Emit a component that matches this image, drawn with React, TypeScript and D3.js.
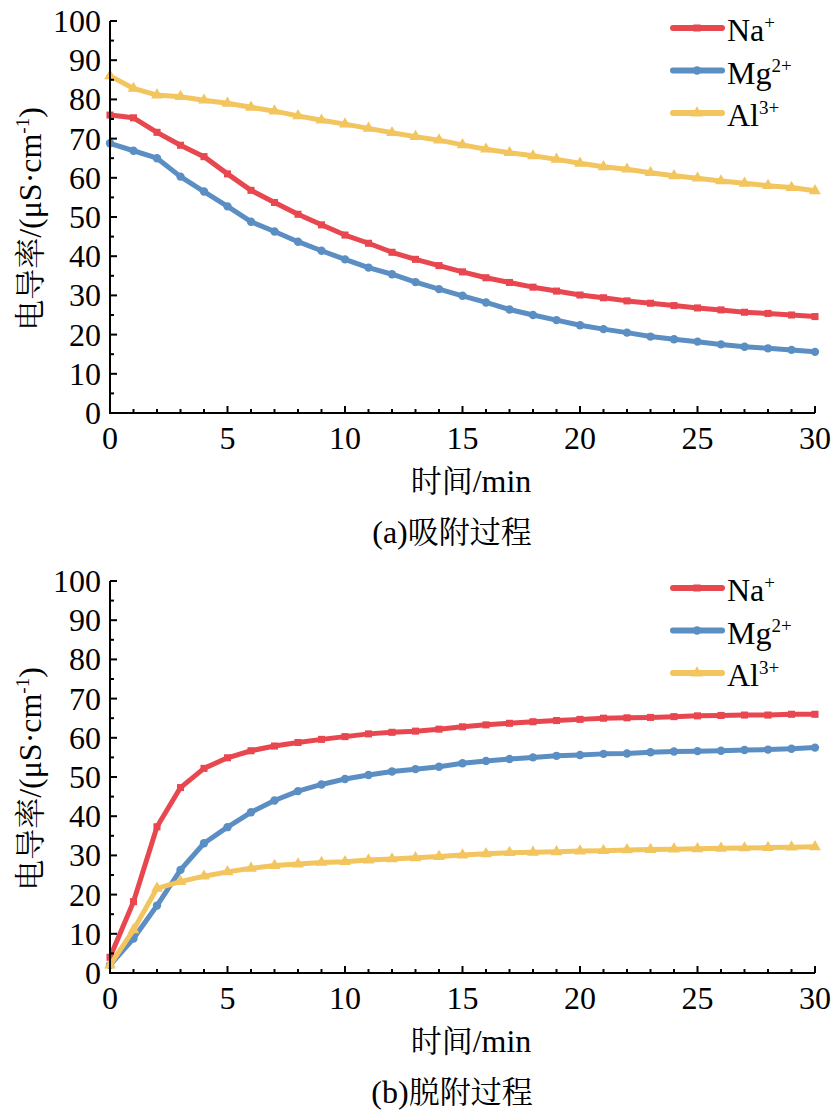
import React from "react";
import * as d3 from "d3";

const times = d3.range(0, 31);

const adsNa = [76, 75.3, 71.6, 68.3, 65.4, 61, 56.8, 53.7, 50.7, 48, 45.4, 43.3, 41, 39.2, 37.6, 36, 34.5, 33.3, 32.1, 31.1, 30.1, 29.4, 28.6, 28, 27.4, 26.8, 26.3, 25.7, 25.4, 25, 24.6];
const adsMg = [68.8, 66.9, 65, 60.3, 56.5, 52.7, 48.8, 46.3, 43.7, 41.4, 39.2, 37.1, 35.4, 33.4, 31.6, 29.9, 28.2, 26.4, 25, 23.7, 22.4, 21.4, 20.5, 19.5, 18.8, 18.2, 17.5, 16.9, 16.5, 16.1, 15.6];
const adsAl = [86, 82.8, 81.1, 80.7, 79.8, 79, 78, 77, 75.8, 74.7, 73.7, 72.6, 71.5, 70.5, 69.6, 68.4, 67.3, 66.4, 65.6, 64.7, 63.7, 62.8, 62.2, 61.3, 60.5, 59.9, 59.2, 58.6, 58, 57.5, 56.7];

const desNa = [4, 18.2, 37.3, 47.3, 52.2, 54.9, 56.7, 57.9, 58.8, 59.6, 60.3, 61, 61.4, 61.7, 62.2, 62.8, 63.3, 63.7, 64.1, 64.4, 64.7, 65, 65.1, 65.2, 65.4, 65.6, 65.7, 65.8, 65.8, 66, 66];
const desMg = [2, 8.8, 17.2, 26.3, 33.1, 37.2, 41, 44, 46.4, 48.1, 49.5, 50.5, 51.4, 52, 52.6, 53.5, 54.1, 54.6, 55, 55.4, 55.6, 55.9, 56, 56.3, 56.5, 56.6, 56.7, 56.9, 57, 57.2, 57.5];
const desAl = [2, 11, 21.6, 23.3, 24.7, 25.8, 26.7, 27.4, 27.8, 28.2, 28.4, 28.8, 29.1, 29.4, 29.7, 30.1, 30.4, 30.7, 30.8, 30.9, 31.1, 31.2, 31.4, 31.5, 31.6, 31.7, 31.8, 31.9, 32, 32.1, 32.2];

const xTicks = [0, 5, 10, 15, 20, 25, 30];
const yTicks = [0, 10, 20, 30, 40, 50, 60, 70, 80, 90, 100];

const ions = [
  { base: "Na", sup: "+", color: "#E8474F", symbol: d3.symbolSquare, size: 50 },
  { base: "Mg", sup: "2+", color: "#5B8EC3", symbol: d3.symbolCircle, size: 55 },
  { base: "Al", sup: "3+", color: "#F2C55F", symbol: d3.symbolTriangle, size: 60 },
];

const panels = [
  { top: 0, tag: "(a)", caption: "吸附过程", series: [adsNa, adsMg, adsAl] },
  { top: 560, tag: "(b)", caption: "脱附过程", series: [desNa, desMg, desAl] },
];

const LAT = { fontFamily: "Liberation Serif", fontSize: 32 };
const CJK = { fontFamily: "Noto Serif CJK SC", fontSize: 31 };

const x = d3.scaleLinear().domain([0, 30]).range([110, 815]);

const Panel = ({ p }) => {
  const y = d3.scaleLinear().domain([0, 100]).range([p.top + 413, p.top + 21]);
  const line = d3
    .line<number>()
    .x((d, k) => x(times[k]))
    .y((d) => y(d));
  return (
    <g>
      {p.series.map((vals, i) => {
        const ion = ions[i];
        const sym = d3.symbol().type(ion.symbol).size(ion.size)();
        return (
          <g key={i}>
            <path d={line(vals)} fill="none" stroke={ion.color} strokeWidth={5} strokeLinejoin="round" />
            {vals.map((v, k) => (
              <path key={k} d={sym} transform={`translate(${x(times[k])},${y(v)})`} fill={ion.color} />
            ))}
          </g>
        );
      })}

      {/* x axis, ticks inward */}
      <line x1={x(0) - 1} x2={x(30)} y1={y(0)} y2={y(0)} stroke="#000" strokeWidth={2} />
      {d3.range(0, 31).map((t) => (
        <line key={t} x1={x(t)} x2={x(t)} y1={y(0)} y2={y(0) - (t % 5 === 0 ? 7 : 4)} stroke="#000" strokeWidth={2} />
      ))}
      {xTicks.map((t) => (
        <text key={t} x={x(t)} y={y(0) + 36} textAnchor="middle" style={LAT}>
          {t}
        </text>
      ))}

      {/* y axis */}
      <line x1={x(0)} x2={x(0)} y1={y(0) + 1} y2={y(100)} stroke="#000" strokeWidth={2} />
      {d3.range(0, 101, 5).map((v) => (
        <line key={v} x1={x(0)} x2={x(0) + (v % 10 === 0 ? 7 : 4)} y1={y(v)} y2={y(v)} stroke="#000" strokeWidth={2} />
      ))}
      {yTicks.map((v) => (
        <text key={v} x={x(0) - 9} y={y(v) + 11} textAnchor="end" style={LAT}>
          {v}
        </text>
      ))}

      {/* titles */}
      <text x={471} y={p.top + 492} textAnchor="middle" style={LAT}>
        <tspan style={CJK}>时间</tspan>
        <tspan style={LAT}>/min</tspan>
      </text>
      <text x={452} y={p.top + 543} textAnchor="middle" style={LAT}>
        <tspan style={LAT}>{p.tag}</tspan>
        <tspan style={CJK}>{p.caption}</tspan>
      </text>
      <text transform={`translate(41,${p.top + 219}) rotate(-90)`} textAnchor="middle" style={LAT}>
        <tspan style={CJK}>电导率</tspan>
        <tspan style={LAT}>/(μS·cm</tspan>
        <tspan dy={-12} style={{ fontFamily: "Liberation Serif", fontSize: 19 }}>-1</tspan>
        <tspan dy={12} style={LAT}>)</tspan>
      </text>

      {/* legend */}
      {ions.map((ion, i) => {
        const ly = p.top + 28 + i * 42.5;
        return (
          <g key={i}>
            <line x1={673} x2={722} y1={ly} y2={ly} stroke={ion.color} strokeWidth={6} strokeLinecap="round" />
            <path d={d3.symbol().type(ion.symbol).size(ion.size)()} transform={`translate(697,${ly})`} fill={ion.color} />
            <text x={727} y={ly + 13} style={{ fontFamily: "Liberation Serif", fontSize: 32 }}>
              <tspan>{ion.base}</tspan>
              <tspan dy={-12} style={{ fontSize: 19 }}>{ion.sup}</tspan>
            </text>
          </g>
        );
      })}
    </g>
  );
};

const App = () => (
  <svg width={835} height={1115} style={{ position: "absolute", left: 0, top: 0, background: "#fff" }}>
    {panels.map((p, i) => (
      <Panel key={i} p={p} />
    ))}
  </svg>
);

export default App;
